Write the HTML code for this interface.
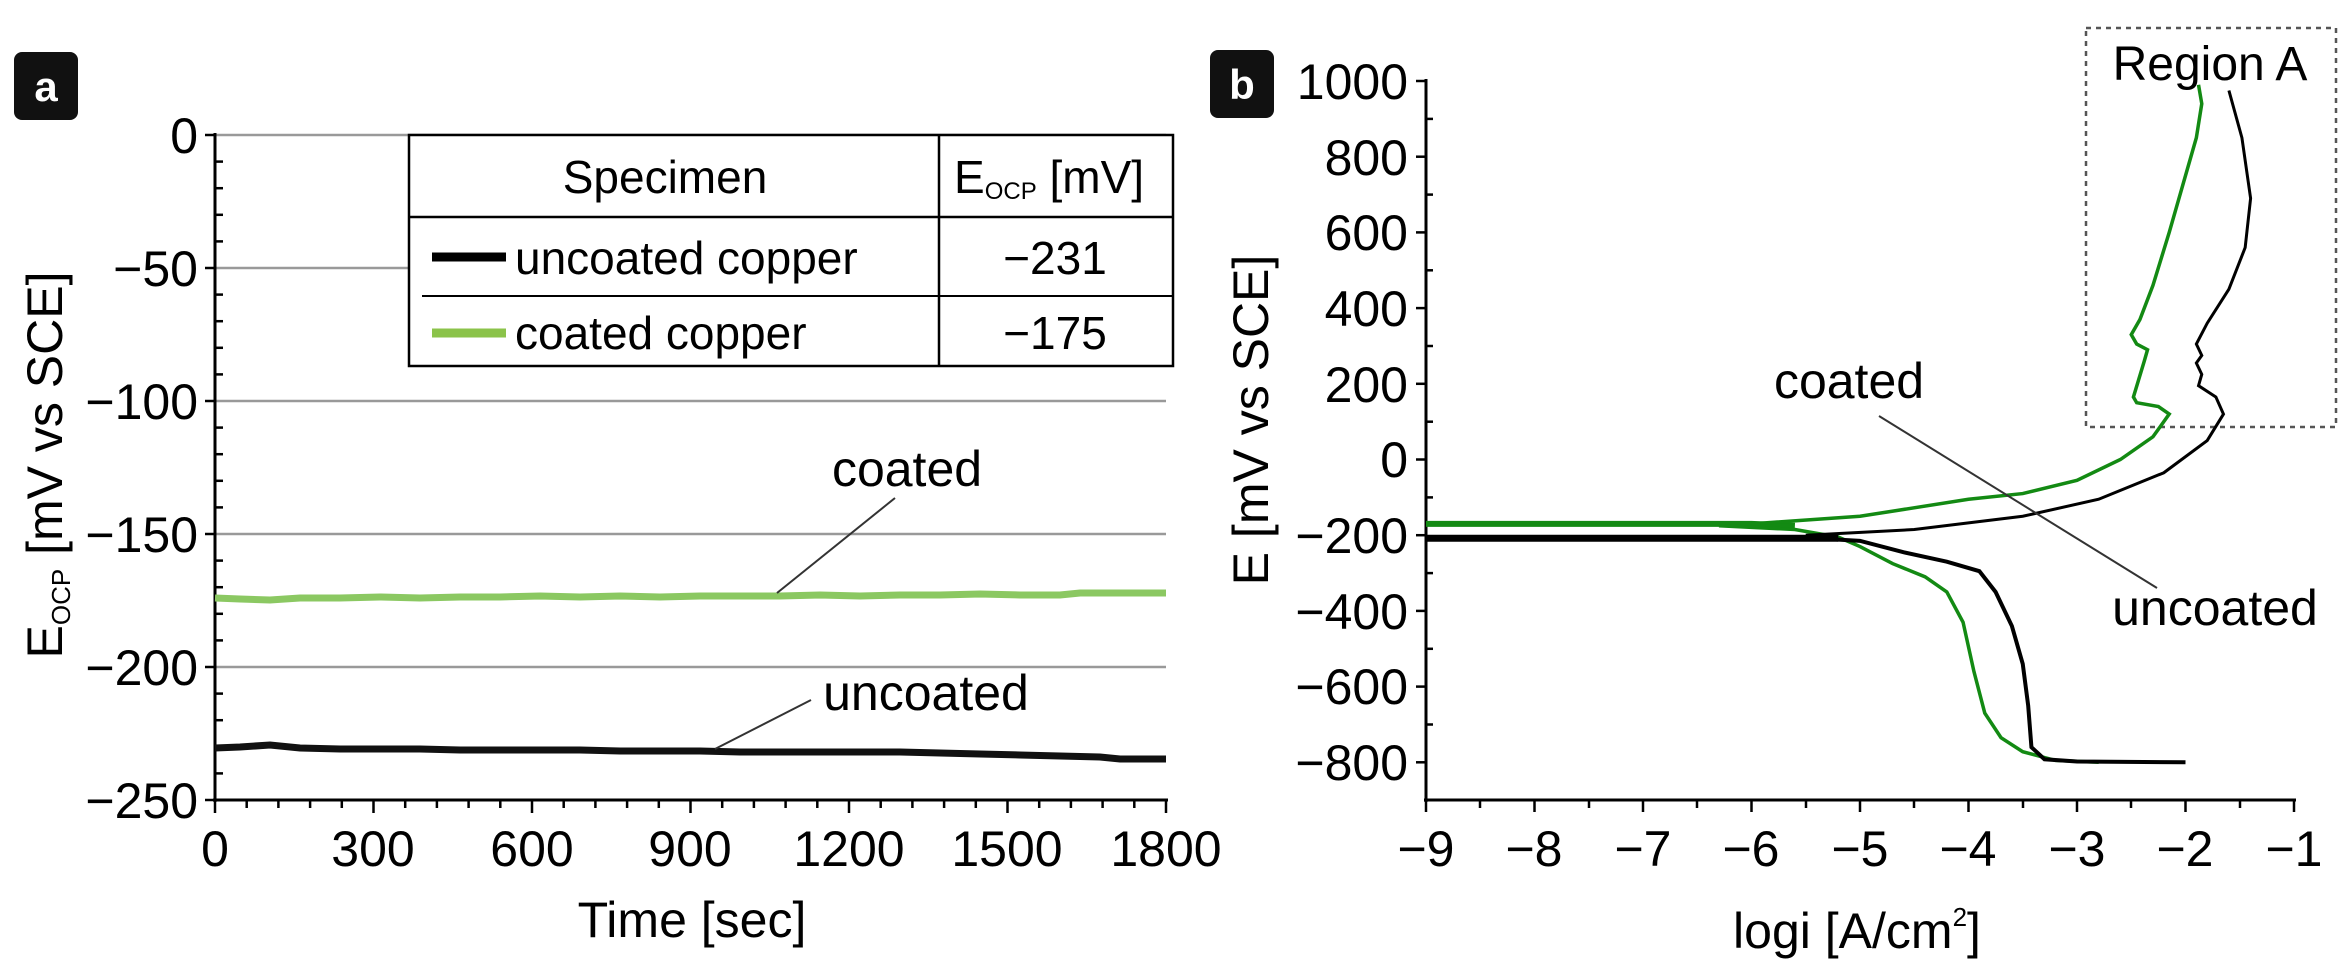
<!DOCTYPE html>
<html><head><meta charset="utf-8"><style>
body{margin:0;background:#fff;}
svg{display:block;font-family:"Liberation Sans",sans-serif;}
</style></head><body>
<svg width="2345" height="967" viewBox="0 0 2345 967" xmlns="http://www.w3.org/2000/svg">
<!-- Panel a -->
<rect x="14" y="52" width="64" height="68" rx="8" fill="#111"/>
<text x="46" y="101" font-size="42" font-weight="bold" fill="#fff" text-anchor="middle">a</text>
<g stroke="#999" stroke-width="2.5">
<line x1="215" y1="135" x2="1166" y2="135"/>
<line x1="215" y1="268" x2="1166" y2="268"/>
<line x1="215" y1="401" x2="1166" y2="401"/>
<line x1="215" y1="534" x2="1166" y2="534"/>
<line x1="215" y1="667" x2="1166" y2="667"/>
</g>
<g stroke="#000" stroke-width="3">
<line x1="215" y1="133" x2="215" y2="802"/>
<line x1="213" y1="800" x2="1168" y2="800"/>
</g>
<g stroke="#000" stroke-width="2.5">
<line x1="205" y1="135" x2="215" y2="135"/><line x1="205" y1="268" x2="215" y2="268"/><line x1="205" y1="401" x2="215" y2="401"/><line x1="205" y1="534" x2="215" y2="534"/><line x1="205" y1="667" x2="215" y2="667"/><line x1="205" y1="800" x2="215" y2="800"/>
<line x1="215" y1="161.6" x2="223" y2="161.6"/><line x1="215" y1="188.2" x2="223" y2="188.2"/><line x1="215" y1="214.8" x2="223" y2="214.8"/><line x1="215" y1="241.4" x2="223" y2="241.4"/>
<line x1="215" y1="294.6" x2="223" y2="294.6"/><line x1="215" y1="321.2" x2="223" y2="321.2"/><line x1="215" y1="347.8" x2="223" y2="347.8"/><line x1="215" y1="374.4" x2="223" y2="374.4"/>
<line x1="215" y1="427.6" x2="223" y2="427.6"/><line x1="215" y1="454.2" x2="223" y2="454.2"/><line x1="215" y1="480.8" x2="223" y2="480.8"/><line x1="215" y1="507.4" x2="223" y2="507.4"/>
<line x1="215" y1="560.6" x2="223" y2="560.6"/><line x1="215" y1="587.2" x2="223" y2="587.2"/><line x1="215" y1="613.8" x2="223" y2="613.8"/><line x1="215" y1="640.4" x2="223" y2="640.4"/>
<line x1="215" y1="693.6" x2="223" y2="693.6"/><line x1="215" y1="720.2" x2="223" y2="720.2"/><line x1="215" y1="746.8" x2="223" y2="746.8"/><line x1="215" y1="773.4" x2="223" y2="773.4"/>
<line x1="215" y1="800" x2="215" y2="813"/><line x1="373.5" y1="800" x2="373.5" y2="813"/><line x1="532" y1="800" x2="532" y2="813"/><line x1="690.5" y1="800" x2="690.5" y2="813"/><line x1="849" y1="800" x2="849" y2="813"/><line x1="1007.5" y1="800" x2="1007.5" y2="813"/><line x1="1166" y1="800" x2="1166" y2="813"/>
</g>
<g stroke="#000" stroke-width="2.5" id="minx">
<line x1="246.7" y1="800" x2="246.7" y2="808"/><line x1="278.4" y1="800" x2="278.4" y2="808"/><line x1="310.1" y1="800" x2="310.1" y2="808"/><line x1="341.8" y1="800" x2="341.8" y2="808"/>
<line x1="405.2" y1="800" x2="405.2" y2="808"/><line x1="436.9" y1="800" x2="436.9" y2="808"/><line x1="468.6" y1="800" x2="468.6" y2="808"/><line x1="500.3" y1="800" x2="500.3" y2="808"/>
<line x1="563.7" y1="800" x2="563.7" y2="808"/><line x1="595.4" y1="800" x2="595.4" y2="808"/><line x1="627.1" y1="800" x2="627.1" y2="808"/><line x1="658.8" y1="800" x2="658.8" y2="808"/>
<line x1="722.2" y1="800" x2="722.2" y2="808"/><line x1="753.9" y1="800" x2="753.9" y2="808"/><line x1="785.6" y1="800" x2="785.6" y2="808"/><line x1="817.3" y1="800" x2="817.3" y2="808"/>
<line x1="880.7" y1="800" x2="880.7" y2="808"/><line x1="912.4" y1="800" x2="912.4" y2="808"/><line x1="944.1" y1="800" x2="944.1" y2="808"/><line x1="975.8" y1="800" x2="975.8" y2="808"/>
<line x1="1039.2" y1="800" x2="1039.2" y2="808"/><line x1="1070.9" y1="800" x2="1070.9" y2="808"/><line x1="1102.6" y1="800" x2="1102.6" y2="808"/><line x1="1134.3" y1="800" x2="1134.3" y2="808"/>
</g>
<g font-size="50" text-anchor="end">
<text x="198" y="153">0</text><text x="198" y="286">−50</text><text x="198" y="419">−100</text><text x="198" y="552">−150</text><text x="198" y="685">−200</text><text x="198" y="818">−250</text>
</g>
<g font-size="50" text-anchor="middle">
<text x="215" y="866">0</text><text x="373" y="866">300</text><text x="532" y="866">600</text><text x="690" y="866">900</text><text x="849" y="866">1200</text><text x="1007" y="866">1500</text><text x="1166" y="866">1800</text>
<text x="692" y="937">Time [sec]</text>
</g>
<text transform="translate(62,465) rotate(-90)" font-size="50" text-anchor="middle">E<tspan font-size="26" dy="8">OCP</tspan><tspan dy="-8"> [mV vs SCE]</tspan></text>
<!-- table -->
<rect x="409" y="135" width="764" height="231" fill="#fff" stroke="#000" stroke-width="2.5"/>
<line x1="409" y1="217" x2="1173" y2="217" stroke="#000" stroke-width="2.5"/>
<line x1="422" y1="296" x2="1173" y2="296" stroke="#000" stroke-width="2"/>
<line x1="939" y1="135" x2="939" y2="366" stroke="#000" stroke-width="2.5"/>
<g font-size="46">
<text x="665" y="193" text-anchor="middle">Specimen</text>
<text x="954" y="193">E<tspan font-size="24" dy="6">OCP</tspan><tspan dy="-6"> [mV]</tspan></text>
<text x="515" y="274">uncoated copper</text>
<text x="515" y="349">coated copper</text>
<text x="1055" y="274" text-anchor="middle">−231</text>
<text x="1055" y="349" text-anchor="middle">−175</text>
</g>
<line x1="432" y1="257" x2="506" y2="257" stroke="#000" stroke-width="9"/>
<line x1="432" y1="333" x2="506" y2="333" stroke="#8bc34a" stroke-width="9"/>
<!-- data a -->
<polyline fill="none" stroke="#8bc862" stroke-width="7" points="215,598 240,599 270,600 300,598 340,598 380,597 420,598 460,597 500,597 540,596 580,597 620,596 660,597 700,596 740,596 780,596 820,595 860,596 900,595 940,595 980,594 1020,595 1060,595 1080,593 1100,593 1130,593 1166,593"/>
<polyline fill="none" stroke="#111" stroke-width="7" points="215,748 240,747 270,745 300,748 340,749 380,749 420,749 460,750 500,750 540,750 580,750 620,751 660,751 700,751 740,752 780,752 820,752 860,752 900,752 940,753 980,754 1020,755 1060,756 1100,757 1120,759 1166,759"/>
<line x1="895" y1="498" x2="777" y2="593" stroke="#333" stroke-width="2"/>
<line x1="811" y1="700" x2="715" y2="749" stroke="#333" stroke-width="2"/>
<text x="907" y="486" font-size="50" text-anchor="middle">coated</text>
<text x="926" y="710" font-size="50" text-anchor="middle">uncoated</text>

<!-- Panel b -->
<rect x="1210" y="50" width="64" height="68" rx="8" fill="#111"/>
<text x="1242" y="99" font-size="42" font-weight="bold" fill="#fff" text-anchor="middle">b</text>
<rect x="2086" y="28" width="250" height="399" fill="none" stroke="#555" stroke-width="2.5" stroke-dasharray="5,5"/>
<text x="2210" y="80" font-size="48" text-anchor="middle">Region A</text>
<g stroke="#000" stroke-width="3">
<line x1="1426" y1="79" x2="1426" y2="802"/>
<line x1="1424" y1="800" x2="2296" y2="800"/>
</g>
<g stroke="#000" stroke-width="2.5">
<line x1="1416" y1="81" x2="1426" y2="81"/><line x1="1416" y1="156.7" x2="1426" y2="156.7"/><line x1="1416" y1="232.4" x2="1426" y2="232.4"/><line x1="1416" y1="308.1" x2="1426" y2="308.1"/><line x1="1416" y1="383.8" x2="1426" y2="383.8"/><line x1="1416" y1="459.5" x2="1426" y2="459.5"/><line x1="1416" y1="535.2" x2="1426" y2="535.2"/><line x1="1416" y1="610.9" x2="1426" y2="610.9"/><line x1="1416" y1="686.6" x2="1426" y2="686.6"/><line x1="1416" y1="762.3" x2="1426" y2="762.3"/>
<line x1="1426" y1="118.9" x2="1433" y2="118.9"/><line x1="1426" y1="194.6" x2="1433" y2="194.6"/><line x1="1426" y1="270.3" x2="1433" y2="270.3"/><line x1="1426" y1="346" x2="1433" y2="346"/><line x1="1426" y1="421.7" x2="1433" y2="421.7"/><line x1="1426" y1="497.4" x2="1433" y2="497.4"/><line x1="1426" y1="573.1" x2="1433" y2="573.1"/><line x1="1426" y1="648.8" x2="1433" y2="648.8"/><line x1="1426" y1="724.5" x2="1433" y2="724.5"/>
<line x1="1426" y1="800" x2="1426" y2="812"/><line x1="1534.5" y1="800" x2="1534.5" y2="812"/><line x1="1643" y1="800" x2="1643" y2="812"/><line x1="1751.5" y1="800" x2="1751.5" y2="812"/><line x1="1860" y1="800" x2="1860" y2="812"/><line x1="1968.5" y1="800" x2="1968.5" y2="812"/><line x1="2077" y1="800" x2="2077" y2="812"/><line x1="2185.5" y1="800" x2="2185.5" y2="812"/><line x1="2294" y1="800" x2="2294" y2="812"/>
<line x1="1480" y1="800" x2="1480" y2="808"/><line x1="1589" y1="800" x2="1589" y2="808"/><line x1="1697" y1="800" x2="1697" y2="808"/><line x1="1806" y1="800" x2="1806" y2="808"/><line x1="1914" y1="800" x2="1914" y2="808"/><line x1="2023" y1="800" x2="2023" y2="808"/><line x1="2131" y1="800" x2="2131" y2="808"/><line x1="2240" y1="800" x2="2240" y2="808"/>
</g>
<g font-size="50" text-anchor="end">
<text x="1408" y="99">1000</text><text x="1408" y="175">800</text><text x="1408" y="250">600</text><text x="1408" y="326">400</text><text x="1408" y="402">200</text><text x="1408" y="477">0</text><text x="1408" y="553">−200</text><text x="1408" y="629">−400</text><text x="1408" y="704">−600</text><text x="1408" y="780">−800</text>
</g>
<g font-size="50" text-anchor="middle">
<text x="1426" y="866">−9</text><text x="1534" y="866">−8</text><text x="1643" y="866">−7</text><text x="1751" y="866">−6</text><text x="1860" y="866">−5</text><text x="1968" y="866">−4</text><text x="2077" y="866">−3</text><text x="2185" y="866">−2</text><text x="2294" y="866">−1</text>
<text x="1857" y="948">logi [A/cm<tspan font-size="26" dy="-22">2</tspan><tspan dy="22">]</tspan></text>
</g>
<text transform="translate(1268,420) rotate(-90)" font-size="50" text-anchor="middle">E [mV vs SCE]</text>
<g transform="translate(1426,81) scale(108.5,-0.3785) translate(9,-1000)" fill="none">
<g stroke="#138a13">
<polyline vector-effect="non-scaling-stroke" stroke-width="6" points="-9,-170 -6,-170 -5.6,-175"/>
<polyline vector-effect="non-scaling-stroke" stroke-width="3.5" points="-6.3,-175 -5.6,-185 -5.2,-205 -5,-230 -4.7,-275 -4.4,-310 -4.2,-350 -4.05,-430 -3.95,-560 -3.85,-670 -3.7,-735 -3.5,-772 -3.2,-795 -2.8,-800"/>
<polyline vector-effect="non-scaling-stroke" stroke-width="3.5" points="-6,-170 -5,-150 -4,-105 -3.5,-90 -3,-55 -2.6,0 -2.3,60 -2.15,120 -2.25,140 -2.45,150 -2.48,165 -2.38,260 -2.35,290 -2.45,305 -2.5,330 -2.42,370 -2.3,460 -2.15,600 -2.0,750 -1.9,850 -1.85,940 -1.88,990"/>
</g>
<g stroke="#000">
<polyline vector-effect="non-scaling-stroke" stroke-width="7" points="-9,-208 -5.2,-208"/>
<polyline vector-effect="non-scaling-stroke" stroke-width="4" points="-5.3,-210 -5,-215 -4.6,-245 -4.2,-270 -3.9,-295 -3.75,-350 -3.6,-440 -3.5,-540 -3.45,-650 -3.42,-760 -3.3,-792 -3,-798 -2,-800"/>
<polyline vector-effect="non-scaling-stroke" stroke-width="3" points="-5.5,-200 -4.5,-185 -3.5,-150 -2.8,-105 -2.2,-35 -1.8,50 -1.65,120 -1.72,165 -1.88,195 -1.85,225 -1.9,255 -1.85,275 -1.9,305 -1.8,360 -1.6,450 -1.45,560 -1.4,690 -1.48,850 -1.6,975"/>
</g>
</g>
<line x1="1879" y1="416" x2="2157" y2="588" stroke="#333" stroke-width="2"/>
<text x="1849" y="398" font-size="50" text-anchor="middle">coated</text>
<text x="2215" y="625" font-size="50" text-anchor="middle">uncoated</text>
</svg>
</body></html>
